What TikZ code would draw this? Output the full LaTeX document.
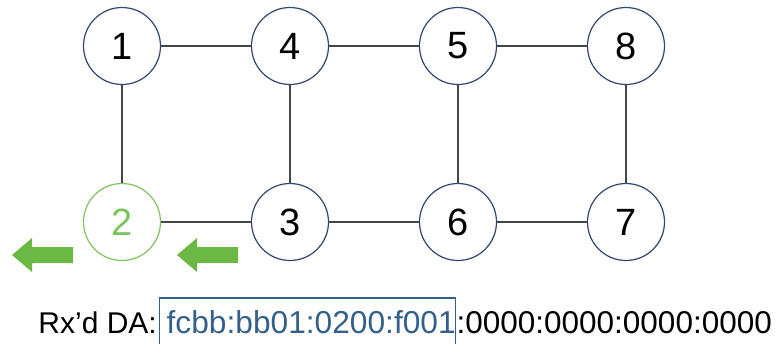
\documentclass[tikz,border=0pt]{standalone}
\usepackage{fontspec}
\setmainfont{Liberation Sans}
\usepackage{xcolor}

\definecolor{navy}{RGB}{48,72,112}
\definecolor{lgreen}{RGB}{125,196,96}
\definecolor{agreen}{RGB}{108,184,68}
\definecolor{dablue}{RGB}{52,96,140}

\begin{document}
\begin{tikzpicture}[x=1pt, y=-1pt,
    router/.style={circle, draw=navy, line width=1.2pt, minimum size=77pt, inner sep=0pt, font=\fontsize{38}{38}\selectfont},
    link/.style={draw=black!72, line width=1.5pt}]
    \useasboundingbox (0,0) rectangle (776,343);
    \clip (0,0) rectangle (776,343);
    % Routers
    \node[router] (n1) at (122,46) {1};
    \node[router] (n4) at (290,46) {4};
    \node[router] (n5) at (458,46) {5};
    \node[router] (n8) at (626,46) {8};
    \node[router, draw=lgreen, text=lgreen] (n2) at (122,222) {2};
    \node[router] (n3) at (290,222) {3};
    \node[router] (n6) at (458,222) {6};
    \node[router] (n7) at (626,222) {7};
    % Links
    \draw[link] (n1) -- (n4);
    \draw[link] (n4) -- (n5);
    \draw[link] (n5) -- (n8);
    \draw[link] (n1) -- (n2);
    \draw[link] (n4) -- (n3);
    \draw[link] (n5) -- (n6);
    \draw[link] (n8) -- (n7);
    \draw[link] (n2) -- (n3);
    \draw[link] (n3) -- (n6);
    \draw[link] (n6) -- (n7);
    % Direction of travel
    \fill[agreen] (12,255) -- (32,238) -- (32,247) -- (73,247) -- (73,263) -- (32,263) -- (32,272) -- cycle;
    \fill[agreen] (177,255) -- (197,238) -- (197,247) -- (238,247) -- (238,263) -- (197,263) -- (197,272) -- cycle;
    % Received address
    \node[anchor=base east, inner sep=0pt, font=\fontsize{30}{30}\selectfont] (rx) at (157,333) {Rx’d DA:};
    \node[anchor=base west, draw=dablue, line width=1.3pt, text=dablue, inner sep=0pt, text height=35pt, text depth=14pt, font=\fontsize{31.7}{31.7}\selectfont] (da) at (159,333) {\hspace{7pt}fcbb:bb01:0200:f001\hspace{2pt}};
    \node[anchor=base west, inner sep=0pt, font=\fontsize{31.5}{31.5}\selectfont] (rest) at (da.east |- rx.base) {:0000:0000:0000:0000};
\end{tikzpicture}
\end{document}
